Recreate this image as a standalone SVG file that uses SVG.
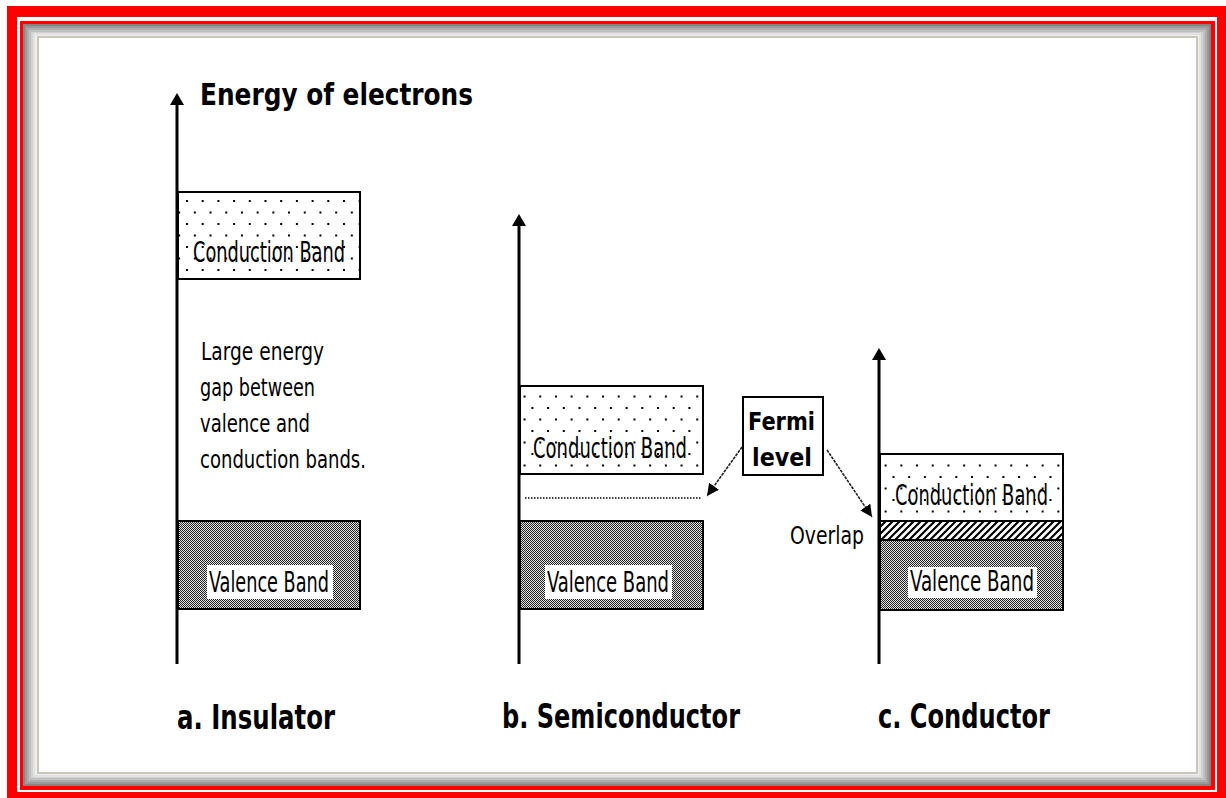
<svg xmlns="http://www.w3.org/2000/svg" width="1226" height="798" viewBox="0 0 1226 798">
<defs>
<style>
.ax{stroke:#000;stroke-width:3;fill:none}
.bx{stroke:#000;stroke-width:2}
.t{font-family:"Liberation Sans Narrow","DejaVu Sans Condensed","Liberation Sans",sans-serif;fill:#000}
.b{font-weight:bold}
.con{fill:url(#dots)}
.val{fill:url(#dither)}
.lbl{fill:#fff}
.fa{stroke:#222;stroke-width:1.6;stroke-dasharray:3 1;fill:none}
</style>
<pattern id="dots" patternUnits="userSpaceOnUse" x="186" y="200" width="15.7" height="23">
<rect width="15.7" height="23" fill="#fff"/>
<rect x="0" y="0" width="2" height="2" fill="#000"/>
<rect x="7.85" y="11.5" width="2" height="2" fill="#000"/>
</pattern>
<pattern id="dither" patternUnits="userSpaceOnUse" width="2" height="2">
<rect width="2" height="2" fill="#e4e4e4"/>
<rect x="0" y="0" width="1" height="1" fill="#222"/>
<rect x="1" y="1" width="1" height="1" fill="#222"/>
</pattern>
<pattern id="hatch" patternUnits="userSpaceOnUse" width="7" height="7">
<rect width="7" height="7" fill="#fff"/>
<path d="M-1,8 L8,-1 M-1,1 L1,-1 M6,8 L8,6" stroke="#000" stroke-width="2.2"/>
</pattern>
<marker id="ah" viewBox="0 0 10 10" refX="10" refY="5" markerWidth="12" markerHeight="12" markerUnits="userSpaceOnUse" orient="auto">
<path d="M0,0 L10,5 L0,10 z" fill="#000"/>
</marker>
</defs>

<!-- frame -->
<rect x="0" y="0" width="1226" height="798" fill="#fff"/>
<rect x="7" y="6" width="1219" height="792" fill="#ff0000"/>
<rect x="17" y="17" width="1200" height="775" fill="#fff"/>
<rect x="20" y="21" width="1195" height="769" fill="#ff0000"/>
<rect x="23" y="24" width="1188" height="762" fill="#858585"/>
<rect x="25" y="26" width="1184" height="758" fill="#9a9a9a"/>
<rect x="27" y="28" width="1180" height="754" fill="#adadad"/>
<rect x="29" y="30" width="1176" height="750" fill="#c0c0c0"/>
<rect x="31" y="32" width="1172" height="746" fill="#d2d2d2"/>
<rect x="33" y="33" width="1168" height="744" fill="#e2e2e2"/>
<rect x="35" y="35" width="1164" height="740" fill="#eeeeee"/>
<rect x="37" y="36" width="1161" height="738" fill="#c9c6bb"/>
<rect x="39" y="38" width="1157" height="734" fill="#fff"/>

<!-- a. Insulator -->
<g id="axis-a">
<line class="ax" x1="177" y1="102" x2="177" y2="664"/>
<path d="M177,93 L184,105 L170,105 z" fill="#000"/>
<text class="t" x="200" y="105" font-size="30" font-weight="bold" textLength="273" lengthAdjust="spacingAndGlyphs">Energy of electrons</text>
</g>
<g id="cb-a">
<rect class="bx con" x="178" y="192" width="182" height="87"/>
<text class="t" x="193" y="262" font-size="28" textLength="152" lengthAdjust="spacingAndGlyphs">Conduction Band</text>
</g>
<g id="gap-note">
<text class="t" x="201" y="360" font-size="25" textLength="123" lengthAdjust="spacingAndGlyphs">Large energy</text>
<text class="t" x="200" y="396" font-size="25" textLength="115" lengthAdjust="spacingAndGlyphs">gap between</text>
<text class="t" x="200" y="432" font-size="25" textLength="110" lengthAdjust="spacingAndGlyphs">valence and</text>
<text class="t" x="200" y="468" font-size="25" textLength="166" lengthAdjust="spacingAndGlyphs">conduction bands.</text>
</g>
<g id="vb-a">
<rect class="bx val" x="178" y="521" width="182" height="88"/>
<rect class="lbl" x="207" y="565" width="126" height="34"/>
<text class="t" x="209" y="592" font-size="28" textLength="120" lengthAdjust="spacingAndGlyphs">Valence Band</text>
</g>
<g id="title-a">
<text class="t b" x="177" y="729" font-size="33" textLength="158" lengthAdjust="spacingAndGlyphs">a. Insulator</text>
</g>

<!-- b. Semiconductor -->
<g id="axis-b">
<line class="ax" x1="519" y1="223" x2="519" y2="664"/>
<path d="M519,214 L526,226 L512,226 z" fill="#000"/>
</g>
<g id="cb-b">
<rect class="bx con" x="520" y="386" width="183" height="88"/>
<text class="t" x="533" y="458" font-size="28" textLength="154" lengthAdjust="spacingAndGlyphs">Conduction Band</text>
</g>
<g id="fermi-line-b">
<line x1="525" y1="498" x2="702" y2="498" stroke="#000" stroke-width="1.5" stroke-dasharray="1.5 1.5"/>
</g>
<g id="vb-b">
<rect class="bx val" x="520" y="521" width="183" height="88"/>
<rect class="lbl" x="545" y="565" width="127" height="34"/>
<text class="t" x="547" y="592" font-size="28" textLength="122" lengthAdjust="spacingAndGlyphs">Valence Band</text>
</g>
<g id="fermi-box">
<rect x="743" y="397" width="80" height="78" fill="#fff" stroke="#000" stroke-width="2"/>
<text class="t b" x="748" y="430" font-size="25" textLength="67" lengthAdjust="spacingAndGlyphs">Fermi</text>
<text class="t b" x="752" y="466" font-size="25" textLength="60" lengthAdjust="spacingAndGlyphs">level</text>
</g>
<g id="title-b">
<text class="t b" x="502" y="728" font-size="33" textLength="238" lengthAdjust="spacingAndGlyphs">b. Semiconductor</text>
</g>

<!-- c. Conductor -->
<g id="axis-c">
<line class="ax" x1="879" y1="357" x2="879" y2="664"/>
<path d="M879,348 L886,360 L872,360 z" fill="#000"/>
</g>
<g id="cb-c">
<rect class="bx con" x="880" y="454" width="183" height="67"/>
<text class="t" x="895" y="505" font-size="28" textLength="153" lengthAdjust="spacingAndGlyphs">Conduction Band</text>
</g>
<g id="overlap-c">
<rect class="bx" x="880" y="521" width="183" height="19" fill="url(#hatch)"/>
<text class="t" x="790" y="544" font-size="25" textLength="74" lengthAdjust="spacingAndGlyphs">Overlap</text>
</g>
<g id="vb-c">
<rect class="bx val" x="880" y="540" width="183" height="70"/>
<rect class="lbl" x="908" y="567" width="129" height="31"/>
<text class="t" x="910" y="591" font-size="28" textLength="124" lengthAdjust="spacingAndGlyphs">Valence Band</text>
</g>
<g id="title-c">
<text class="t b" x="878" y="728" font-size="33" textLength="172" lengthAdjust="spacingAndGlyphs">c. Conductor</text>
</g>

<!-- connectors -->
<g id="connectors">
<line class="fa" x1="742" y1="447" x2="707" y2="496" marker-end="url(#ah)"/>
<line class="fa" x1="827" y1="450" x2="872" y2="517" marker-end="url(#ah)"/>
</g>
</svg>
